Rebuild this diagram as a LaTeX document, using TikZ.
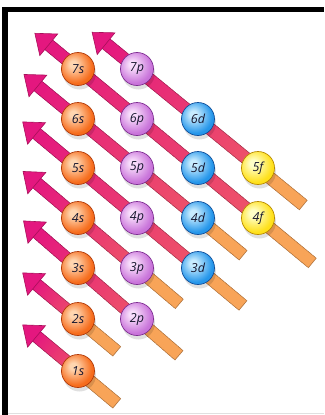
\documentclass[tikz,border=0pt]{standalone}
\usepackage{fontspec}
\usepackage{xcolor}
\usepackage{tikz}
\usetikzlibrary{calc, shadows, backgrounds}
\newfontfamily\lblfont{Open Sans}

% arrow colours
\definecolor{tailor}{HTML}{F8A458}
\definecolor{salm}{HTML}{EE5468}
\definecolor{mag}{HTML}{E4177F}
\definecolor{magedge}{HTML}{A8105A}
\definecolor{lbltxt}{HTML}{16162E}
% ball colours
\definecolor{shl}{HTML}{FFD6B0}\definecolor{smid}{HTML}{F66C1C}\definecolor{srim}{HTML}{E0480A}\definecolor{sedge}{HTML}{B03A0A}
\definecolor{phl}{HTML}{F8DDFB}\definecolor{pmid}{HTML}{C974DA}\definecolor{prim}{HTML}{A448BA}\definecolor{pedge}{HTML}{7E2E92}
\definecolor{dhl}{HTML}{C8ECFF}\definecolor{dmid}{HTML}{2596EA}\definecolor{drim}{HTML}{1668C8}\definecolor{dedge}{HTML}{0F4E9A}
\definecolor{fhl}{HTML}{FFFFC8}\definecolor{fmid}{HTML}{FFE01A}\definecolor{frim}{HTML}{EDB800}\definecolor{fedge}{HTML}{B88A00}

\pgfdeclareradialshading{sshade}{\pgfpoint{-8bp}{8bp}}{color(0bp)=(shl); color(5bp)=(shl); color(26bp)=(smid); color(44bp)=(smid); color(60bp)=(srim)}
\pgfdeclareradialshading{pshade}{\pgfpoint{-8bp}{8bp}}{color(0bp)=(phl); color(5bp)=(phl); color(26bp)=(pmid); color(44bp)=(pmid); color(60bp)=(prim)}
\pgfdeclareradialshading{dshade}{\pgfpoint{-8bp}{8bp}}{color(0bp)=(dhl); color(5bp)=(dhl); color(26bp)=(dmid); color(44bp)=(dmid); color(60bp)=(drim)}
\pgfdeclareradialshading{fshade}{\pgfpoint{-8bp}{8bp}}{color(0bp)=(fhl); color(5bp)=(fhl); color(26bp)=(fmid); color(44bp)=(fmid); color(60bp)=(frim)}

\begin{document}
\begin{tikzpicture}[
    x=1pt, y=-1pt,
    every node/.style={font=\lblfont\itshape\fontsize{12.5}{15}\selectfont, text=lbltxt},
    ball/.style={circle, minimum size=33pt, inner sep=0pt, line width=0.7pt, shade,
                 drop shadow={shadow xshift=1.5pt, shadow yshift=-4pt, opacity=0.12, fill=black}},
    sball/.style={ball, shading=sshade, draw=sedge},
    pball/.style={ball, shading=pshade, draw=pedge},
    dball/.style={ball, shading=dshade, draw=dedge},
    fball/.style={ball, shading=fshade, draw=fedge},
    rim/.style={line width=12.8pt},
    core/.style={line width=11.4pt},
    head/.style={fill=mag, draw=magedge, line width=0.6pt}
]
\useasboundingbox (0,0) rectangle (324,415);

% =========================================================
% FRAME
% =========================================================
\draw[line width=5.5pt] (5.2,7) -- (5.2,415);
\draw[line width=5pt] (2.5,9.5) -- (324,9.5);
\draw[black!12, line width=1pt] (8,413.5) -- (324,413.5);

% =========================================================
% ORBITALS
% =========================================================
\node[sball] (s7) at (78,69)  {7s};
\node[sball] (s6) at (78,119) {6s};
\node[sball] (s5) at (78,168) {5s};
\node[sball] (s4) at (78,218) {4s};
\node[sball] (s3) at (78,268) {3s};
\node[sball] (s2) at (78,319) {2s};
\node[sball] (s1) at (78,371) {1s};

\node[pball] (p7) at (137,69)  {7p};
\node[pball] (p6) at (137,119) {6p};
\node[pball] (p5) at (137,168) {5p};
\node[pball] (p4) at (137,218) {4p};
\node[pball] (p3) at (137,268) {3p};
\node[pball] (p2) at (137,319) {2p};

\node[dball] (d6) at (198,119) {6d};
\node[dball] (d5) at (198,168) {5d};
\node[dball] (d4) at (198,218) {4d};
\node[dball] (d3) at (198,268) {3d};

\node[fball] (f5) at (258,168) {5f};
\node[fball] (f4) at (258,218) {4f};

% =========================================================
% ARROW ENDS (tail = lower right, head = upper left)
% =========================================================
\coordinate (h1) at ($(s1)+(-55.3,-46.1)$);
\coordinate (t1) at ($(s1)+(38.4,32)$);
\coordinate (h2) at ($(s2)+(-55.3,-46.1)$);
\coordinate (t2) at ($(s2)+(38.4,32)$);
\coordinate (h3) at ($(s3)!-72pt!(p2)$);
\coordinate (t3) at ($(p2)!-55pt!(s3)$);
\coordinate (h4) at ($(s4)!-72pt!(p3)$);
\coordinate (t4) at ($(p3)!-55pt!(s4)$);
\coordinate (h5) at ($(s5)!-72pt!(d3)$);
\coordinate (t5) at ($(d3)!-58pt!(s5)$);
\coordinate (h6) at ($(s6)!-70pt!(d4)$);
\coordinate (t6) at ($(d4)!-58pt!(s6)$);
\coordinate (h7) at ($(s7)!-56pt!(f4)$);
\coordinate (t7) at ($(f4)!-70pt!(s7)$);
\coordinate (h8) at ($(p7)!-58pt!(f5)$);
\coordinate (t8) at ($(f5)!-58pt!(p7)$);

% =========================================================
% ARROWS (behind the balls)
% =========================================================
\begin{scope}[on background layer]
\foreach \aTail/\aHead/\aT/\aL in {t1/h1/50/104, t2/h2/50/104, t3/h3/55/187, t4/h4/55/186,
                                    t5/h5/58/268, t6/h6/58/265, t7/h7/70/341, t8/h8/58/254}{
  \coordinate (hb) at ($(\aHead)!18pt!(\aTail)$);
  % darker rim
  \foreach \dst in {0,2,...,\aL}{
    \pgfmathtruncatemacro\pp{max(0,min(100,(\dst-\aT)/(\aL-\aT)*100))}
    \pgfmathtruncatemacro\qq{max(0,min(100,(\dst-\aT+8)/16*100))}
    \colorlet{segc}{mag!\pp!salm!\qq!tailor}
    \pgfmathsetmacro\da{\dst-0.8}
    \pgfmathsetmacro\db{\dst+2.6}
    \draw[rim, draw=segc!72!black] ($(\aTail)!\da pt!(\aHead)$) -- ($(\aTail)!\db pt!(\aHead)$);
  }
  % colour core
  \foreach \dst in {0,2,...,\aL}{
    \pgfmathtruncatemacro\pp{max(0,min(100,(\dst-\aT)/(\aL-\aT)*100))}
    \pgfmathtruncatemacro\qq{max(0,min(100,(\dst-\aT+8)/16*100))}
    \colorlet{segc}{mag!\pp!salm!\qq!tailor}
    \pgfmathsetmacro\db{\dst+2.6}
    \draw[core, draw=segc] ($(\aTail)!\dst pt!(\aHead)$) -- ($(\aTail)!\db pt!(\aHead)$);
  }
  % head
  \filldraw[head] (\aHead) -- ($(hb)!14pt!90:(\aHead)$) -- ($(hb)!14pt!-90:(\aHead)$) -- cycle;
}
\end{scope}

\end{tikzpicture}
\end{document}
